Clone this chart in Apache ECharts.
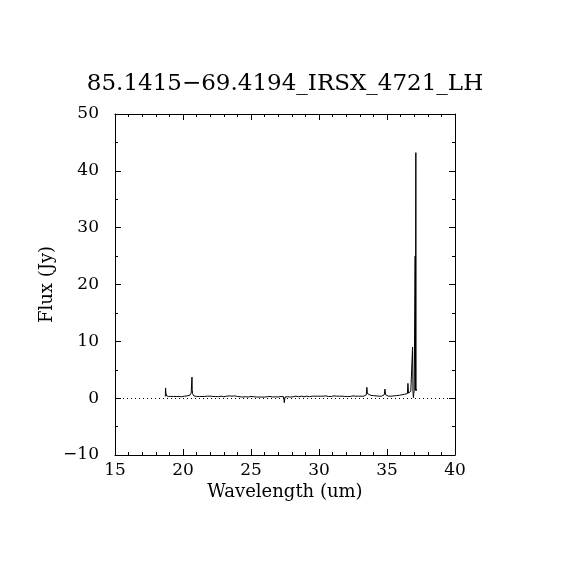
<!DOCTYPE html>
<html>
<head>
<meta charset="utf-8">
<script src="https://cdn.jsdelivr.net/npm/echarts@6/dist/echarts.min.js"></script>
<style>html,body{margin:0;padding:0;background:#fff;}#c{width:570px;height:570px;}</style>
</head>
<body>
<div id="c"></div>
<script>
const titleText = "85.1415\u221269.4194_IRSX_4721_LH";
const xName = "Wavelength (um)";
const yName = "Flux (Jy)";
const xMin = 15, xMax = 40, xStep = 5;
const yMin = -10, yMax = 50, yStep = 10;

const wavelength = [
18.70,18.72,18.74,18.76,18.80,18.85,18.90,18.95,19.00,
19.1,19.2,19.3,19.4,19.5,19.6,19.7,19.8,19.9,20.0,20.1,20.2,20.3,20.4,20.5,20.55,20.6,20.64,20.66,20.68,20.70,20.75,20.8,20.9,
21.0,21.1,21.2,21.3,21.4,21.5,21.6,21.7,21.8,21.9,22.0,22.1,22.2,22.3,22.4,22.5,22.6,22.7,22.8,22.9,
23.0,23.1,23.2,23.3,23.4,23.5,23.6,23.7,23.8,23.9,24.0,24.1,24.2,24.3,24.4,24.5,24.6,24.7,24.8,24.9,
25.0,25.1,25.2,25.3,25.4,25.5,25.6,25.7,25.8,25.9,26.0,26.1,26.2,26.3,26.4,26.5,26.6,26.7,26.8,26.9,
27.0,27.1,27.2,27.3,27.4,27.45,27.5,27.6,27.7,27.8,27.9,28.0,28.1,28.2,28.3,28.4,28.5,28.6,28.7,28.8,28.9,
29.0,29.1,29.2,29.3,29.4,29.5,29.6,29.7,29.8,29.9,30.0,30.1,30.2,30.3,30.4,30.5,30.6,30.7,30.8,30.9,
31.0,31.1,31.2,31.3,31.4,31.5,31.6,31.7,31.8,31.9,32.0,32.1,32.2,32.3,32.4,32.5,32.6,32.7,32.8,32.9,
33.0,33.1,33.2,33.3,33.4,33.48,33.52,33.56,33.6,33.7,33.8,33.9,34.0,34.1,34.2,34.3,34.4,34.5,34.6,34.7,34.8,34.85,34.9,
35.0,35.1,35.2,35.3,35.4,35.5,35.6,35.7,35.8,35.9,36.0,36.1,36.2,36.3,36.4,36.5,36.54,36.58,36.65,36.7,36.75,36.8,36.85,36.88,36.91,36.94,36.97,
37.0,37.03,37.07,37.09,37.12,37.14,37.17,37.2
];
const flux = [
0.3,1.8,0.9,0.6,0.4,0.5,0.2,0.3,0.2,
0.3,0.25,0.3,0.2,0.3,0.25,0.3,0.3,0.25,0.3,0.35,0.3,0.4,0.35,0.5,0.6,0.9,1.2,3.7,1.5,0.8,0.5,0.4,0.35,
0.3,0.35,0.3,0.4,0.3,0.35,0.3,0.4,0.35,0.3,0.35,0.4,0.3,0.35,0.3,0.35,0.25,0.3,0.35,0.3,
0.25,0.3,0.35,0.3,0.4,0.3,0.35,0.3,0.4,0.35,0.3,0.35,0.25,0.3,0.2,0.3,0.25,0.3,0.2,0.25,
0.3,0.2,0.25,0.3,0.2,0.25,0.2,0.3,0.2,0.25,0.2,0.3,0.25,0.2,0.3,0.25,0.2,0.3,0.25,0.3,
0.2,0.25,0.3,0.2,0.25,-0.8,0.2,0.3,0.25,0.3,0.2,0.3,0.25,0.3,0.35,0.3,0.25,0.3,0.35,0.3,0.25,
0.3,0.35,0.3,0.25,0.3,0.35,0.3,0.35,0.3,0.35,0.3,0.35,0.3,0.35,0.3,0.4,0.35,0.3,0.35,0.3,
0.35,0.4,0.3,0.35,0.3,0.35,0.3,0.35,0.4,0.3,0.35,0.3,0.35,0.3,0.35,0.4,0.3,0.35,0.3,0.35,
0.3,0.35,0.3,0.35,0.4,0.6,1.9,0.8,0.5,0.45,0.5,0.4,0.45,0.35,0.4,0.3,0.35,0.3,0.35,0.4,0.6,1.6,0.6,
0.4,0.35,0.4,0.35,0.45,0.4,0.5,0.45,0.6,0.5,0.7,0.6,0.8,0.7,0.9,0.8,2.6,0.9,1.0,0.9,1.2,1.0,1.1,9.0,1.2,0.1,0.8,
1.3,1.5,25.0,1.4,43.2,1.3,1.6,1.2
];

const seriesData = wavelength.map((w, i) => [w, flux[i]]);
const font = 'DejaVu Serif';
const fmt = v => String(v).replace('-', '\u2212');

const baseAxis = {
  axisLine: { show: true, onZero: false, lineStyle: { color: '#000', width: 1 } },
  axisTick: { show: true, inside: true, length: 6, lineStyle: { color: '#000' } },
  minorTick: { show: true, length: 3, lineStyle: { color: '#000' } },
  splitLine: { show: false },
};

const chart = echarts.init(document.getElementById('c'), null, { renderer: 'canvas' });
chart.setOption({
  animation: false,
  backgroundColor: '#fff',
  title: {
    text: titleText, left: 'center', top: 68,
    textStyle: { fontFamily: font, fontSize: 23, fontWeight: 'normal', color: '#000' }
  },
  grid: { left: 115, right: 115, top: 114, bottom: 115 },
  xAxis: [
    Object.assign({}, baseAxis, {
      type: 'value', min: xMin, max: xMax, interval: xStep, position: 'bottom',
      minorTick: Object.assign({}, baseAxis.minorTick, { splitNumber: 5 }),
      axisLabel: { color: '#000', fontFamily: font, fontSize: 17, margin: 7, formatter: fmt },
      name: xName, nameLocation: 'middle', nameGap: 28, nameMoveOverlap: false,
      nameTextStyle: { color: '#000', fontFamily: font, fontSize: 18 }
    }),
    Object.assign({}, baseAxis, {
      type: 'value', min: xMin, max: xMax, interval: xStep, position: 'top',
      minorTick: Object.assign({}, baseAxis.minorTick, { splitNumber: 5 }),
      axisLabel: { show: false }
    })
  ],
  yAxis: [
    Object.assign({}, baseAxis, {
      type: 'value', min: yMin, max: yMax, interval: yStep, position: 'left',
      minorTick: Object.assign({}, baseAxis.minorTick, { splitNumber: 2 }),
      axisLabel: { color: '#000', fontFamily: font, fontSize: 17, margin: 16, formatter: fmt },
      name: yName, nameLocation: 'middle', nameGap: 59, nameMoveOverlap: false,
      nameTextStyle: { color: '#000', fontFamily: font, fontSize: 18 }
    }),
    Object.assign({}, baseAxis, {
      type: 'value', min: yMin, max: yMax, interval: yStep, position: 'right',
      minorTick: Object.assign({}, baseAxis.minorTick, { splitNumber: 2 }),
      axisLabel: { show: false }
    })
  ],
  series: [{
    type: 'line',
    data: seriesData,
    showSymbol: false,
    symbol: 'none',
    lineStyle: { color: '#000', width: 1 },
    markLine: {
      silent: true, symbol: 'none', label: { show: false },
      lineStyle: { color: '#000', width: 1, type: [1, 3] },
      data: [{ yAxis: 0 }]
    }
  }]
});
</script>
</body>
</html>
